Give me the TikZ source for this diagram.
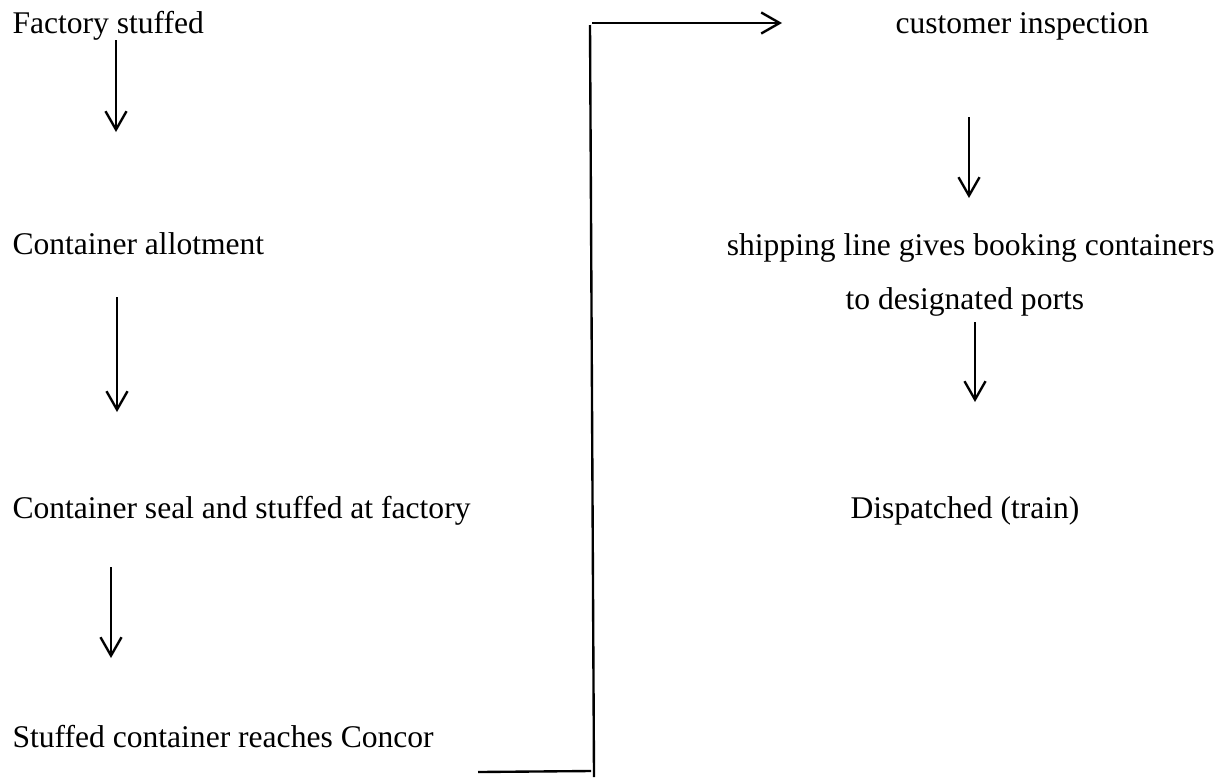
\documentclass[tikz,border=0pt]{standalone}
\usepackage{fontspec}
\setmainfont{Liberation Serif}
\usetikzlibrary{arrows.meta,calc}

\tikzset{
  stepText/.style={inner sep=0pt,anchor=base west,font=\fontsize{12}{14}\selectfont},
  flowArrow/.style={line width=0.9pt,-{Straight Barb[length=7pt,width=8pt,line width=0.9pt]}},
  flowLine/.style={line width=0.9pt}
}

\begin{document}
\begin{tikzpicture}[x=0.38pt,y=-0.38pt]
\useasboundingbox (0,0) rectangle (1228,778);

% left column
\node[stepText] (fs) at (12,33) {Factory stuffed};
\node[stepText] (ca) at (12,254) {Container allotment};
\node[stepText] (cs) at (12,518) {Container seal and stuffed at factory};
\node[stepText] (sc) at (12,747) {Stuffed container reaches Concor};

% right column
\node[stepText] (ci) at (895,33) {customer inspection};
\node[stepText,anchor=base east] (sl) at (1215,255) {shipping line gives booking containers};
\node[stepText] (tp) at (845,309) {to designated ports};
\node[stepText] (dt) at (850,518) {Dispatched (train)};

% arrow ends
\coordinate (A1) at (116,40);  \coordinate (A2) at (116,132);
\coordinate (B1) at (117,297); \coordinate (B2) at (117,412);
\coordinate (C1) at (111,567); \coordinate (C2) at (111,658);
\coordinate (D1) at (969,117); \coordinate (D2) at (969,198);
\coordinate (E1) at (975,322); \coordinate (E2) at (975,402);

% the long link
\coordinate (L1) at (478,772); \coordinate (L2) at (591,771);
\coordinate (V1) at (594,777); \coordinate (V2) at (590,25);
\coordinate (H1) at (592,23);  \coordinate (H2) at (782,23);

\draw[flowArrow] (A1) -- (A2);
\draw[flowArrow] (B1) -- (B2);
\draw[flowArrow] (C1) -- (C2);
\draw[flowArrow] (D1) -- (D2);
\draw[flowArrow] (E1) -- (E2);

\draw[flowLine] (L1) -- (L2);
\draw[flowLine] (V1) -- (V2);
\draw[flowArrow] (H1) -- (H2);
\end{tikzpicture}
\end{document}
